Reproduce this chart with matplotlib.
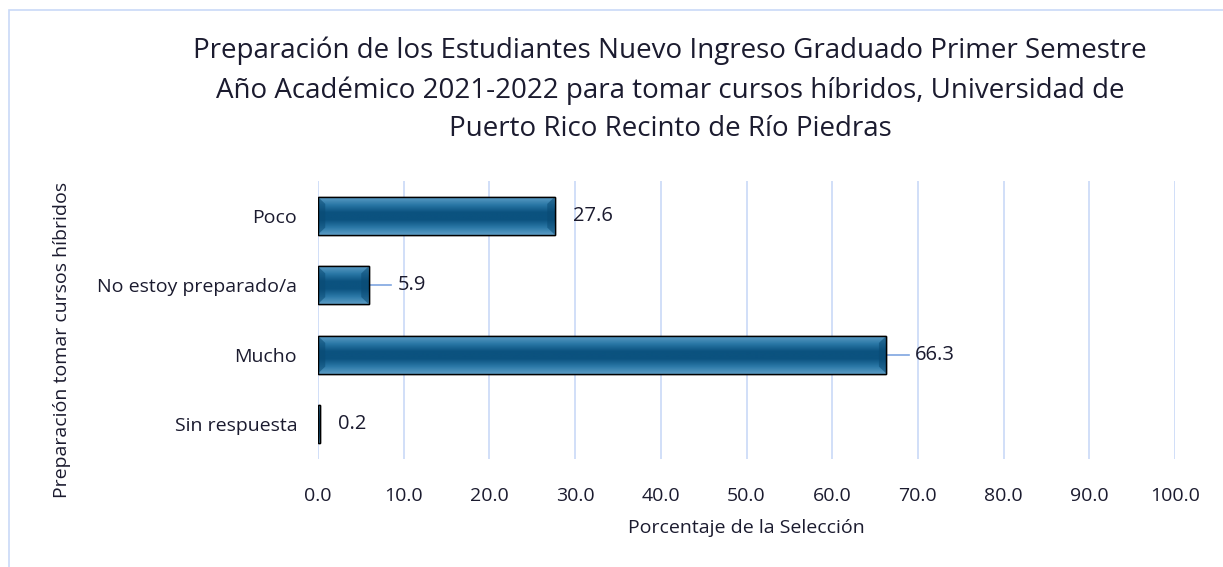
import numpy as np
import matplotlib.pyplot as plt
from matplotlib.patches import Rectangle, Polygon
from matplotlib.colors import LinearSegmentedColormap

plt.rcParams['font.family'] = ['Open Sans', 'DejaVu Sans']

# data
categories = ['Poco', 'No estoy preparado/a', 'Mucho', 'Sin respuesta']
values = [27.6, 5.9, 66.3, 0.2]
labels = ['27.6', '5.9', '66.3', '0.2']
xticks = [0, 10, 20, 30, 40, 50, 60, 70, 80, 90, 100]

title = ('Preparación de los Estudiantes Nuevo Ingreso Graduado Primer Semestre\n'
         'Año Académico 2021-2022 para tomar cursos híbridos, Universidad de\n'
         'Puerto Rico Recinto de Río Piedras')

txt = '#1b1b2f'
grid_c = '#c9d9f7'

fig = plt.figure(figsize=(12.23, 5.67), dpi=100)
ax = fig.add_axes([0.26, 0.1905, 0.7008, 0.4903])

# light blue frame of the chart area
fig.patches.append(Rectangle((9 / 1223, -0.1), 1.2, 1 - 10 / 567 + 0.1,
                             transform=fig.transFigure, fill=False,
                             edgecolor=grid_c, lw=1.2))

ypos = np.arange(len(categories))
h = 0.54
bars = ax.barh(ypos, values, height=h, color='#14618f', edgecolor='black',
               lw=1.0, zorder=3)

# bevel-like vertical gradient inside each bar
cmap = LinearSegmentedColormap.from_list('bev', ['#5b9cc4', '#2a77a6', '#0b527f',
                                                 '#0b527f', '#2a77a6', '#5b9cc4'])
grad = np.linspace(0, 1, 100).reshape(-1, 1)
for b in bars:
    x0, y0 = b.get_x(), b.get_y()
    w, hh = b.get_width(), b.get_height()
    im = ax.imshow(grad, cmap=cmap, aspect='auto', extent=[x0, x0 + w, y0, y0 + hh],
                   zorder=3.5, origin='lower')
    im.set_clip_path(b)
    # darker side bevels
    d = min(0.85, w / 2)
    dy = 0.1
    y1 = y0 + hh
    for pts in ([(x0, y0), (x0 + d, y0 + dy), (x0 + d, y1 - dy), (x0, y1)],
                [(x0 + w, y0), (x0 + w - d, y0 + dy), (x0 + w - d, y1 - dy), (x0 + w, y1)]):
        ax.add_patch(Polygon(pts, closed=True, facecolor='#0a4a73', alpha=0.55,
                             lw=0, zorder=3.6))
    ax.add_patch(Rectangle((x0, y0), w, hh, fill=False, edgecolor='black',
                           lw=1.0, zorder=4))

# data labels
for i, (v, lab) in enumerate(zip(values, labels)):
    if lab in ('5.9', '66.3'):
        ax.plot([v, v + 2.6], [i, i], color='#7fa6e0', lw=1.2, zorder=2)
        ax.text(v + 3.4, i, lab, va='center', ha='left', fontsize=14.5, color=txt)
    else:
        ax.text(v + 2.1, i, lab, va='center', ha='left', fontsize=14.5, color=txt)

ax.set_xlim(0, 100)
ax.set_ylim(len(categories) - 0.5, -0.5)
ax.set_xticks(xticks)
ax.set_xticklabels([f'{t:.1f}' for t in xticks], fontsize=14, color=txt)
ax.set_yticks(ypos)
ax.set_yticklabels(categories, fontsize=14, color=txt)
ax.tick_params(length=0, pad=15)
ax.tick_params(axis='x', pad=20)
ax.grid(axis='x', color=grid_c, lw=1.2, zorder=0)
for s in ax.spines.values():
    s.set_visible(False)

ax.set_xlabel('Porcentaje de la Selección', fontsize=14, color=txt, labelpad=10)
fig.text(62 / 1223, 1 - 340 / 567, 'Preparación tomar cursos híbridos', rotation=90,
         ha='center', va='center', fontsize=14, color=txt)

fig.text(670 / 1223, 1 - 90 / 567, title, ha='center', va='center',
         fontsize=20, color=txt, linespacing=1.5)

fig.savefig('out.png', dpi=100)
